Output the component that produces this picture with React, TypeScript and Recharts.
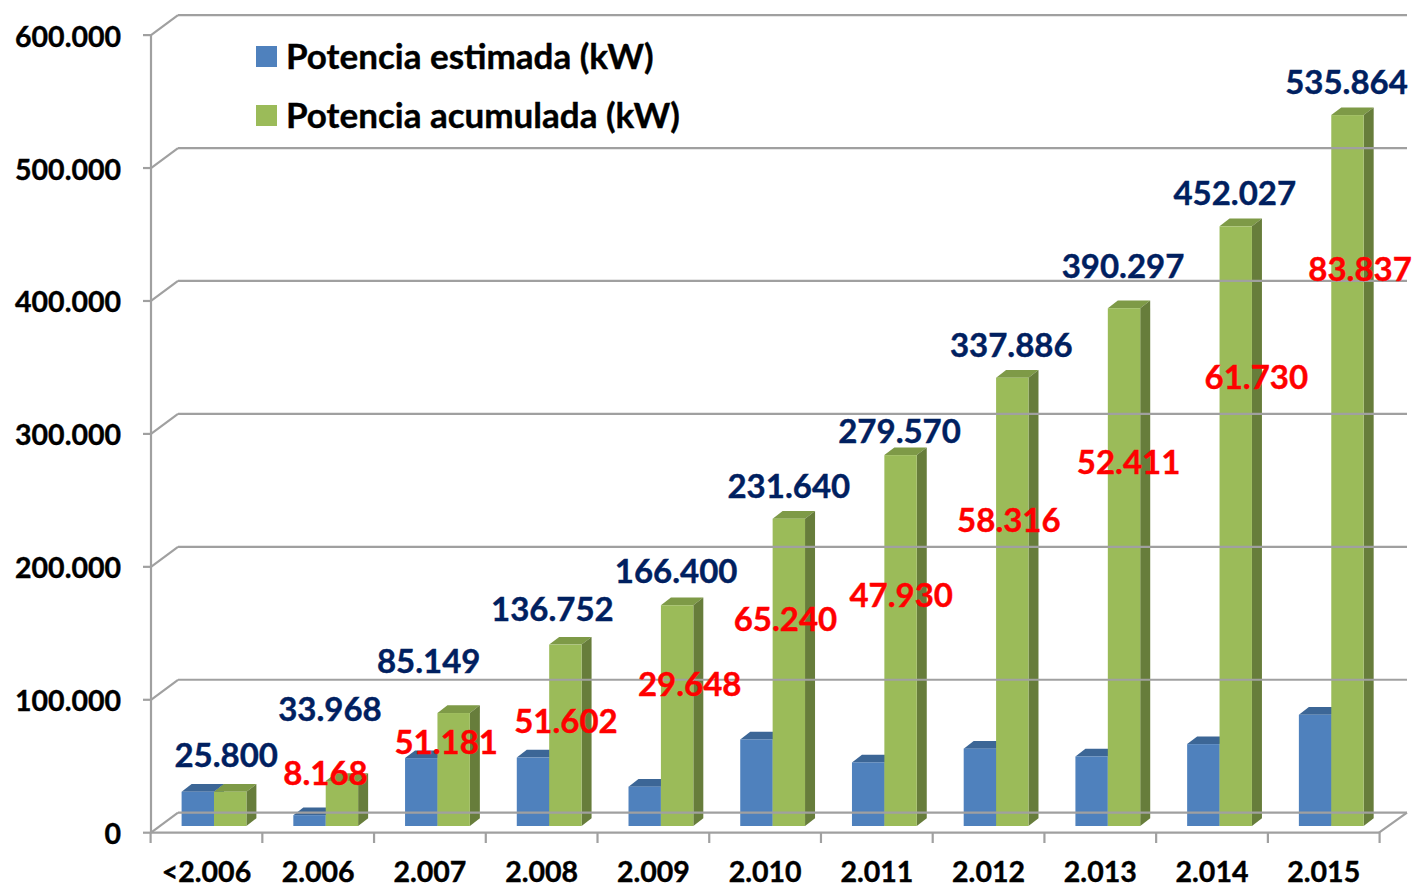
import React from "react";
import { BarChart, Bar, XAxis, YAxis, Legend, LabelList } from "recharts";

const years = ["<2.006", "2.006", "2.007", "2.008", "2.009", "2.010", "2.011", "2.012", "2.013", "2.014", "2.015"];
const estimada = [25800, 8168, 51181, 51602, 29648, 65240, 47930, 58316, 52411, 61730, 83837];
const acumulada = [25800, 33968, 85149, 136752, 166400, 231640, 279570, 337886, 390297, 452027, 535864];
const yTicks = [0, 100000, 200000, 300000, 400000, 500000, 600000];

const data = years.map((year, i) => ({ year, estimada: estimada[i], acumulada: acumulada[i] }));

// hand-placed labels in the original, offset from the top of each bar
const navyShift = [[-4, -38], [-12, -73], [-25, -53], [-13, -37], [-1, -35], [0, -34], [-1, -25], [-1, -34], [-1, -43], [-1, -34], [-1, -34]];
const redShift = [null, [16, -43], [25, -17], [33, -38], [45, -104], [29, -121], [33, -168], [29, -230], [37, -295], [53, -368], [45, -447]];

const FONT = "Lato";
const GRID = "#a0a0a0";
const DEPTH_X = 10;
const DEPTH_Y = 7.7;
const FRONT_LEFT = 151;
const FRONT_RIGHT = 1379;
const BACK_LEFT = 178;
const BACK_RIGHT = 1407;
const BASE_Y = 826;
const FRONT_FLOOR = 832.7;
const BACK_FLOOR = 812.7;
const WALL_STRETCH = 1.002; // the walls are a touch taller than the bar scale

const fmt = (v: number) => String(v).replace(/\B(?=(\d{3})+$)/g, ".");

const Box = (colors: { top: string; side: string }) => (props: any) => {
  const { x, y, width, height, fill } = props;
  const r = x + width;
  return (
    <g>
      <polygon points={`${x},${y} ${x + DEPTH_X},${y - DEPTH_Y} ${r + DEPTH_X},${y - DEPTH_Y} ${r},${y}`} fill={colors.top} />
      <polygon points={`${r},${y} ${r + DEPTH_X},${y - DEPTH_Y} ${r + DEPTH_X},${y + height - DEPTH_Y} ${r},${y + height}`} fill={colors.side} />
      <rect x={x} y={y} width={width} height={height} fill={fill} />
    </g>
  );
};

const YTick = (props: any) => {
  const { y, payload } = props;
  const rise = (BASE_Y - y) * WALL_STRETCH;
  const front = FRONT_FLOOR - rise;
  const back = BACK_FLOOR - rise;
  const isZero = payload.value === 0;
  const isTop = payload.value === 600000;
  return (
    <g fill="none" stroke={GRID} strokeWidth={2.2}>
      <line x1={BACK_LEFT} y1={back} x2={BACK_RIGHT} y2={back} />
      <line x1={FRONT_LEFT} y1={front} x2={BACK_LEFT} y2={back} />
      <line x1={FRONT_LEFT - 8} y1={front} x2={FRONT_LEFT} y2={front} />
      {isTop && <line x1={FRONT_LEFT} y1={front} x2={FRONT_LEFT} y2={FRONT_FLOOR} />}
      {isZero && <line x1={FRONT_LEFT} y1={front} x2={FRONT_RIGHT} y2={front} />}
      {isZero && <line x1={FRONT_RIGHT} y1={front} x2={BACK_RIGHT} y2={back} />}
      <text x={121} y={front + 0.5} textAnchor="end" dominantBaseline="central" stroke="#000" strokeWidth={0.4} fill="#000" fontFamily={FONT} fontWeight={700} fontSize={28.5}>
        {fmt(payload.value)}
      </text>
    </g>
  );
};

const XTick = (props: any) => {
  const { x, payload, index } = props;
  const left = x - 8 - 55.86;
  const right = x - 8 + 55.86;
  return (
    <g>
      <line x1={left} y1={832} x2={left} y2={843} stroke={GRID} strokeWidth={2.2} />
      {index === years.length - 1 && <line x1={right} y1={832} x2={right} y2={843} stroke={GRID} strokeWidth={2.2} />}
      <text x={x - 8} y={871} textAnchor="middle" dominantBaseline="central" stroke="#000" strokeWidth={0.4} fill="#000" fontFamily={FONT} fontWeight={700} fontSize={28.5}>
        {payload.value}
      </text>
    </g>
  );
};

const BarLabel = (shift: (number[] | null)[], color: string) => (props: any) => {
  const { x, y, width, index, value } = props;
  const s = shift[index];
  if (!s) return null;
  return (
    <text x={x + width / 2 + s[0]} y={y + s[1]} textAnchor="middle" dominantBaseline="central" stroke={color} strokeWidth={0.4} fill={color} fontFamily={FONT} fontWeight={700} fontSize={33}>
      {fmt(value)}
    </text>
  );
};

const LegendBox = () => (
  <div style={{ fontFamily: FONT, fontWeight: 700, fontSize: 35, color: "#000", lineHeight: "59px", WebkitTextStroke: "0.4px #000" }}>
    {[["#4F81BD", "Potencia estimada (kW)"], ["#9BBB59", "Potencia acumulada (kW)"]].map(([c, t]) => (
      <div key={t} style={{ display: "flex", alignItems: "center", height: 59, whiteSpace: "nowrap" }}>
        <span style={{ width: 21, height: 21, background: c, marginRight: 9 }} />
        <span style={{ position: "relative", top: -1 }}>{t}</span>
      </div>
    ))}
  </div>
);

export default function App() {
  return (
    <div style={{ position: "absolute", left: 0, top: 0 }}>
      <BarChart
        width={1415}
        height={888}
        data={data}
        barSize={32.4}
        barGap={0}
        margin={{ top: 30, right: 27.4, bottom: 0, left: 0 }}
      >
        <XAxis dataKey="year" height={62} interval={0} axisLine={false} tickLine={false} tick={<XTick />} />
        <YAxis width={158.6} domain={[0, 600000]} ticks={yTicks} axisLine={false} tickLine={false} tick={<YTick />} />
        <Legend
          layout="vertical"
          align="center"
          verticalAlign="middle"
          content={<LegendBox />}
          wrapperStyle={{ position: "absolute", left: 256, top: 27, width: 500, height: 118 }}
        />
        <Bar dataKey="estimada" name="Potencia estimada (kW)" fill="#4F81BD" isAnimationActive={false} shape={Box({ top: "#3C6696", side: "#3C6696" })}>
          <LabelList dataKey="estimada" content={BarLabel(redShift, "#FF0000")} />
        </Bar>
        <Bar dataKey="acumulada" name="Potencia acumulada (kW)" fill="#9BBB59" isAnimationActive={false} shape={Box({ top: "#7E9A47", side: "#677D3B" })}>
          <LabelList dataKey="acumulada" content={BarLabel(navyShift, "#002060")} />
        </Bar>
      </BarChart>
    </div>
  );
}
